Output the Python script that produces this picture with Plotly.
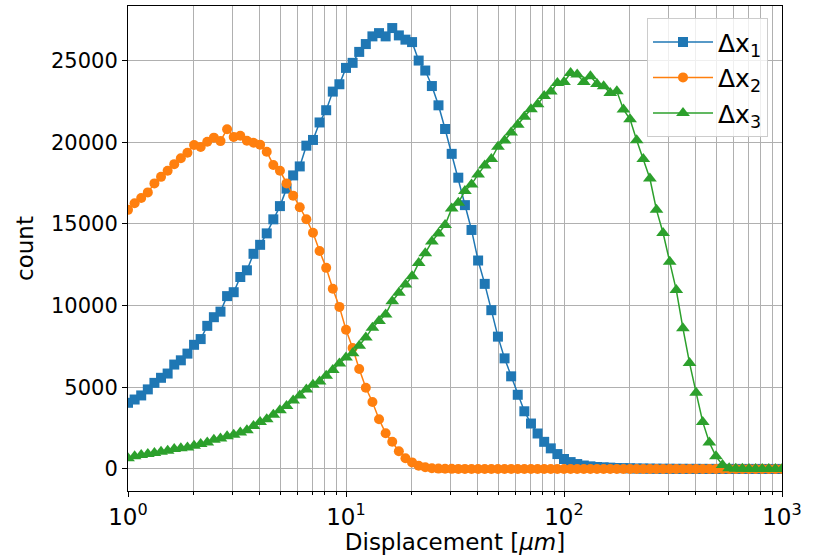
import numpy as np
import plotly.graph_objects as go

# bin centres: 100 log-spaced bins from 1 to 1000 µm
displacement = np.logspace(0, 3, 100)

dx1 = [4050, 4250, 4500, 4870, 5270, 5580, 5840, 6390, 6650, 7060,
       7600, 7950, 8760, 9290, 9630, 10580, 10820, 11750, 12160, 13170,
       13720, 14420, 15280, 16090, 17160, 17970, 18520, 19790, 20140, 21210,
       21960, 23100, 23550, 24550, 24860, 25530, 26010, 26480, 26680, 26480,
       26990, 26540, 26280, 26130, 25000, 24390, 23440, 22260, 20810, 19290,
       17830, 16150, 14630, 12760, 11330, 9720, 8100, 6770, 5670, 4540,
       3530, 2780, 2170, 1660, 1260, 910, 610, 420, 300, 210,
       160, 120, 100, 80, 60, 50, 40, 30, 25, 20,
       15, 12, 10, 8, 7, 6, 5, 4, 3, 3,
       2, 2, 1, 1, 1, 1, 0, 0, 0, 0]

dx2 = [15860, 16260, 16590, 16930, 17480, 17880, 18250, 18660, 19020, 19360,
       19830, 19710, 20030, 20280, 20070, 20800, 20320, 20400, 20090, 19970,
       19850, 19420, 18610, 18250, 17480, 16730, 16020, 15290, 14460, 13340,
       12310, 11030, 9920, 8520, 7400, 6120, 4970, 4100, 3040, 2190,
       1660, 1080, 650, 400, 200, 100, 40, 20, 10, 5,
       3, 2, 1, 0, 0, 0, 0, 0, 0, 0,
       0, 0, 0, 0, 0, 0, 0, 0, 0, 0,
       0, 0, 0, 0, 0, 0, 0, 0, 0, 0,
       0, 0, 0, 0, 0, 0, 0, 0, 0, 0,
       0, 0, 0, 0, 0, 0, 0, 0, 0, 0]

dx3 = [650, 770, 850, 910, 970, 1050, 1120, 1220, 1260, 1320,
       1420, 1520, 1620, 1790, 1870, 2000, 2100, 2230, 2370, 2630,
       2880, 3040, 3320, 3590, 3850, 4190, 4500, 4860, 5150, 5350,
       5710, 6050, 6450, 6830, 7090, 7540, 8040, 8650, 9060, 9460,
       10270, 10780, 11290, 11790, 12600, 13210, 13920, 14420, 14930, 15940,
       16290, 17020, 17420, 18030, 18580, 18980, 19730, 20100, 20600, 21070,
       21560, 22020, 22330, 22830, 23100, 23630, 23690, 24240, 24140, 23690,
       24040, 23570, 23430, 23020, 23120, 22010, 21400, 20120, 18970, 17780,
       15860, 14440, 12680, 10950, 8620, 6490, 4670, 2880, 1620, 770,
       240, 40, 10, 5, 0, 0, 0, 0, 0, 0]

series_names = ["Δx<sub>1</sub>", "Δx<sub>2</sub>", "Δx<sub>3</sub>"]
series_colors = ["#1f77b4", "#ff7f0e", "#2ca02c"]
series_symbols = ["square", "circle", "triangle-up"]
series_sizes = [10, 10, 12]

x_tickvals = [1, 10, 100, 1000]
x_ticktext = ["10<sup>0</sup>", "10<sup>1</sup>", "10<sup>2</sup>", "10<sup>3</sup>"]
x_minor = [m * d for d in (1, 10, 100) for m in range(2, 10)]
y_tickvals = [0, 5000, 10000, 15000, 20000, 25000]

fig = go.Figure()
for y, name, color, sym, sz in zip([dx1, dx2, dx3], series_names, series_colors,
                                   series_symbols, series_sizes):
    fig.add_trace(go.Scatter(
        x=displacement, y=y, mode="lines+markers", name=name,
        line=dict(color=color, width=1.5),
        marker=dict(symbol=sym, size=sz, color=color),
    ))

grid_col = "#b0b0b0"
fig.update_layout(
    width=815, height=555,
    margin=dict(l=128, r=33, t=5, b=63),
    paper_bgcolor="white", plot_bgcolor="white",
    font=dict(family="DejaVu Sans", size=21, color="black"),
    xaxis=dict(
        type="log", range=[0, 3],
        tickmode="array", tickvals=x_tickvals, ticktext=x_ticktext,
        tickfont=dict(size=23),
        ticks="outside", ticklen=5, tickwidth=1, tickcolor="black",
        showline=True, mirror=True, linecolor="black", linewidth=1,
        showgrid=True, gridcolor=grid_col, gridwidth=0.8,
        minor=dict(tickmode="array", tickvals=x_minor, ticks="outside", ticklen=3,
                   tickcolor="black", showgrid=True, gridcolor=grid_col, gridwidth=0.8),
        title=dict(text="Displacement [<i>μm</i>]", font=dict(size=23), standoff=4),
        zeroline=False,
    ),
    yaxis=dict(
        range=[-1350, 28340],
        tickmode="array", tickvals=y_tickvals, tickformat="d",
        tickfont=dict(size=21),
        ticks="outside", ticklen=5, tickwidth=1, tickcolor="black",
        showline=True, mirror=True, linecolor="black", linewidth=1,
        showgrid=True, gridcolor=grid_col, gridwidth=0.8,
        zeroline=False,
        title=dict(text="count", font=dict(size=23), standoff=10),
    ),
    legend=dict(
        x=0.9786, y=0.975, xanchor="right", yanchor="top",
        bgcolor="rgba(255,255,255,0.8)", bordercolor="#cccccc", borderwidth=1,
        font=dict(size=25), itemwidth=60,
    ),
)

fig.write_html("out.html")
